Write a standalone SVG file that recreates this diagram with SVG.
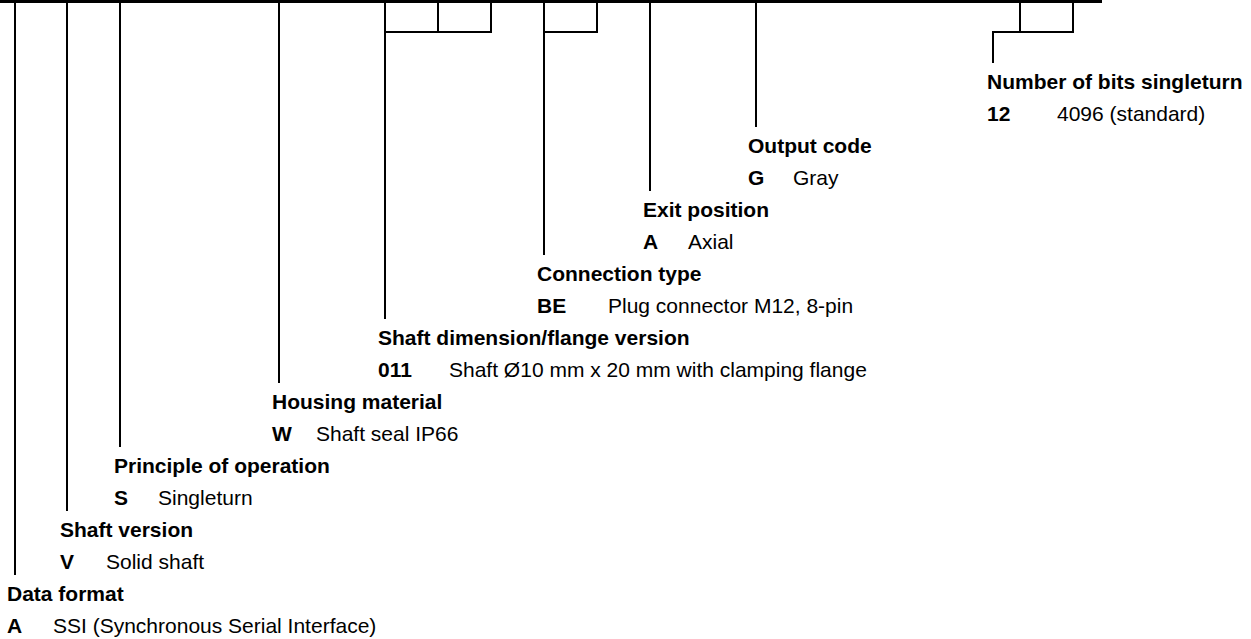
<svg xmlns="http://www.w3.org/2000/svg" width="1251" height="639" viewBox="0 0 1251 639">
<style>
text{font-family:"Liberation Sans",Arial,Helvetica,sans-serif;font-size:21px;fill:#000}
.t{font-weight:bold}
.c{font-weight:bold}
.ln{stroke:#000;stroke-width:2;fill:none}
.bar{stroke:#000;stroke-width:3;fill:none}
</style>
<rect width="1251" height="639" fill="#fff"/>
<g id="connectors">
<line class="bar" x1="0" y1="1.5" x2="1102" y2="1.5"/>
<path class="ln" d="M15 3V575M67 3V511M120 3V447M279 3V383"/>
<path class="ln" d="M385 3V319M438 3V32M491 3V32M384 32H492"/>
<path class="ln" d="M544 3V255M597 3V32M543 32H598"/>
<path class="ln" d="M650 3V191M756 3V127"/>
<path class="ln" d="M1020 3V32M1073 3V32M992 32H1074M993 31V63"/>
</g>
<g id="bits">
<text class="t" x="987" y="89">Number of bits singleturn</text>
<text class="c" x="987" y="121">12</text><text x="1057" y="121">4096 (standard)</text>
</g>
<g id="output-code">
<text class="t" x="748" y="153">Output code</text>
<text class="c" x="748" y="185">G</text><text x="793" y="185">Gray</text>
</g>
<g id="exit-position">
<text class="t" x="643" y="217">Exit position</text>
<text class="c" x="643" y="249">A</text><text x="688" y="249">Axial</text>
</g>
<g id="connection-type">
<text class="t" x="537" y="281">Connection type</text>
<text class="c" x="537" y="313">BE</text><text x="608" y="313">Plug connector M12, 8-pin</text>
</g>
<g id="shaft-dimension">
<text class="t" x="378" y="345">Shaft dimension/flange version</text>
<text class="c" x="378" y="377">011</text><text x="449" y="377">Shaft Ø10 mm x 20 mm with clamping flange</text>
</g>
<g id="housing-material">
<text class="t" x="272" y="409">Housing material</text>
<text class="c" x="272" y="441">W</text><text x="316" y="441">Shaft seal IP66</text>
</g>
<g id="principle">
<text class="t" x="114" y="473">Principle of operation</text>
<text class="c" x="114" y="505">S</text><text x="158" y="505">Singleturn</text>
</g>
<g id="shaft-version">
<text class="t" x="60" y="537">Shaft version</text>
<text class="c" x="60" y="569">V</text><text x="106" y="569">Solid shaft</text>
</g>
<g id="data-format">
<text class="t" x="7" y="601">Data format</text>
<text class="c" x="7" y="633">A</text><text x="53" y="633">SSI (Synchronous Serial Interface)</text>
</g>
</svg>
